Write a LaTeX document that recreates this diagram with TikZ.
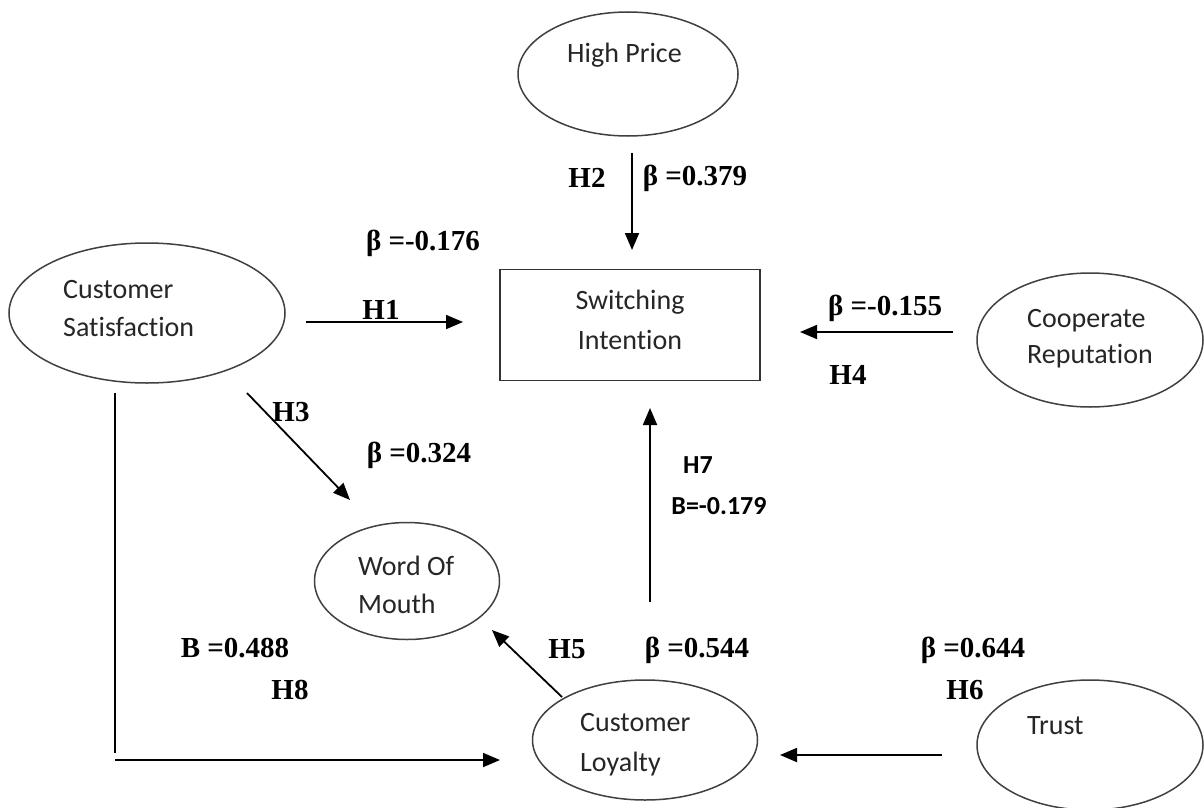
\documentclass[tikz,border=0pt]{standalone}
\usepackage{fontspec}
\setmainfont{Liberation Serif}
\newfontfamily\calfont[Ligatures=NoCommon]{Carlito}
\usetikzlibrary{shapes.geometric,arrows.meta}
\begin{document}
\begin{tikzpicture}[x=1pt,y=-1pt,
  latent/.style={ellipse,draw=black!75,line width=1.5pt,inner sep=0pt},
  ntext/.style={font=\calfont\fontsize{28}{38}\selectfont,align=left,anchor=west,text=black!85,inner sep=0pt},
  lab/.style={font=\bfseries\fontsize{29}{34}\selectfont,inner sep=0pt},
  labs/.style={font=\calfont\bfseries\fontsize{26}{30}\selectfont,inner sep=0pt},
  conn/.style={line width=1.8pt,-{Triangle[length=17pt,width=14pt]}},
  plainline/.style={line width=1.8pt}]
\useasboundingbox (0,0) rectangle (1204,808);
\fill[white] (0,0) rectangle (1204,808);

% constructs
\node[latent,minimum width=220pt,minimum height=124pt] (hp) at (628,74) {};
\node[ntext] (hpt) at (567,55) {High Price};

\node[draw=black!80,line width=1.5pt,minimum width=260pt,minimum height=111pt] (si) at (630,325) {};
\node[font=\calfont\fontsize{28}{40}\selectfont,align=center,text=black!85,inner sep=0pt] (sit) at (630,320) {Switching\\Intention};

\node[latent,minimum width=276pt,minimum height=140pt] (cs) at (147,313) {};
\node[ntext] (cst) at (63,309) {Customer\\Satisfaction};

\node[latent,minimum width=226pt,minimum height=134pt] (cr) at (1090,340) {};
\node[ntext,font=\calfont\fontsize{28}{36}\selectfont] (crt) at (1027,339) {Cooperate\\Reputation};

\node[latent,minimum width=185pt,minimum height=117pt] (wom) at (407,581) {};
\node[ntext,font=\calfont\fontsize{28}{38}\selectfont] (womt) at (358,585) {Word Of\\Mouth};

\node[latent,minimum width=225pt,minimum height=120pt] (cl) at (645,740) {};
\node[ntext,font=\calfont\fontsize{28}{40}\selectfont] (clt) at (580,745) {Customer\\Loyalty};

\node[latent,minimum width=226pt,minimum height=130pt] (tr) at (1090,745) {};
\node[ntext] (trt) at (1027,726) {Trust};

% connector end points
\coordinate (h2s) at (632,153); \coordinate (h2e) at (632,250);
\coordinate (h1s) at (306,322); \coordinate (h1e) at (463,322);
\coordinate (h4s) at (953,332); \coordinate (h4e) at (800,332);
\coordinate (h3s) at (247,393); \coordinate (h3e) at (350,500);
\coordinate (h7s) at (650,602); \coordinate (h7e) at (650,408);
\coordinate (h5s) at (562,697); \coordinate (h5e) at (492,630);
\coordinate (h8a) at (115,393); \coordinate (h8b) at (115,753);
\coordinate (h8c) at (115,760); \coordinate (h8e) at (500,760);
\coordinate (h6s) at (942,755); \coordinate (h6e) at (780,755);

\draw[conn] (h2s) -- (h2e);
\draw[conn] (h1s) -- (h1e);
\draw[conn] (h4s) -- (h4e);
\draw[conn] (h3s) -- (h3e);
\draw[conn] (h7s) -- (h7e);
\draw[conn] (h5s) -- (h5e);
\draw[plainline] (h8a) -- (h8b);
\draw[conn] (h8c) -- (h8e);
\draw[conn] (h6s) -- (h6e);

% labels
\node[lab] (l2) at (587,178) {H2};
\node[lab] (b2) at (695,178) {β =0.379};
\node[lab] (b1) at (423,243) {β =-0.176};
\node[lab] (l1) at (381,310) {H1};
\node[lab] (b4) at (885,308) {β =-0.155};
\node[lab] (l4) at (848,375) {H4};
\node[lab] (l3) at (291,412) {H3};
\node[lab] (b3) at (419,455) {β =0.324};
\node[labs] (l7) at (698,465) {H7};
\node[labs] (b7) at (719,506) {B=-0.179};
\node[lab] (b8) at (235,648) {B =0.488};
\node[lab] (l8) at (290,690) {H8};
\node[lab] (l5) at (567,649) {H5};
\node[lab] (b5) at (697,650) {β =0.544};
\node[lab] (b6) at (973,650) {β =0.644};
\node[lab] (l6) at (965,690) {H6};
\end{tikzpicture}
\end{document}
